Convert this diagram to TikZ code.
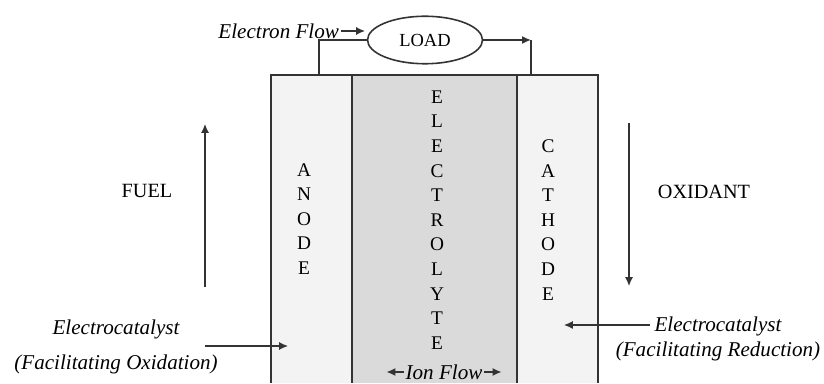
\documentclass[tikz,border=0pt]{standalone}
\usepackage{fontspec}
\setmainfont{Liberation Serif}
\usepackage{tikz}
\usetikzlibrary{calc, shapes.geometric, positioning, arrows.meta}

\definecolor{cellline}{HTML}{333333}
\definecolor{electfill}{HTML}{DADADA}
\definecolor{electrodefill}{HTML}{F3F3F3}

\begin{document}
\begin{tikzpicture}[>={Latex[length=5pt, width=4.5pt]}, x=0.02cm, y=-0.02cm,
    cellwall/.style={draw=cellline, line width=0.9pt},
    flowarrow/.style={->, draw=cellline, line width=0.7pt},
    vword/.style={font=\fontsize{11}{14}\selectfont, align=center, inner sep=0pt},
    itlabel/.style={font=\fontsize{12}{14}\selectfont\itshape, inner sep=1pt},
    uplabel/.style={font=\fontsize{11.5}{13}\selectfont, inner sep=1pt}]
    \useasboundingbox (0,0) rectangle (824,384);
    % =================================================================
    % 1. PIN: ANODE - ELECTROLYTE - CATHODE
    % =================================================================
    \fill[electrodefill] (271,75) rectangle (352,383);
    \fill[electfill] (352,75) rectangle (517,383);
    \fill[electrodefill] (517,75) rectangle (598,383);
    \draw[cellwall] (271,383) -- (271,75) -- (598,75) -- (598,383);
    \draw[cellwall] (352,75) -- (352,383);
    \draw[cellwall] (517,75) -- (517,383);
    % Chữ dọc
    \node[vword] (anodetxt) at (304,219) {A\\N\\O\\D\\E};
    \node[vword] (electtxt) at (437,220) {E\\L\\E\\C\\T\\R\\O\\L\\Y\\T\\E};
    \node[vword] (cathodetxt) at (548,220) {C\\A\\T\\H\\O\\D\\E};
    % Dòng ion
    \node[itlabel] (ion) at (444,372) {Ion Flow};
    \draw[flowarrow] (ion.west) -- ++(-17,0);
    \draw[flowarrow] (ion.east) -- ++(17,0);

    % =================================================================
    % 2. MẠCH NGOÀI (LOAD)
    % =================================================================
    \node[ellipse, draw=cellline, line width=0.9pt, minimum width=2.3cm,
          minimum height=0.95cm, font=\fontsize{10.5}{12}\selectfont] (load) at (425,40) {LOAD};
    \coordinate (wleft) at (319,75);
    \coordinate (wright) at (531,75);
    \draw[cellwall] (wleft) |- (load.west);
    \draw[flowarrow, line width=0.9pt] (load.east) -- (load.east -| wright);
    \draw[cellwall] (load.east -| wright) -- (wright);
    \node[itlabel, anchor=east] (eflow) at (341,31) {Electron Flow};
    \draw[flowarrow] (eflow.east) -- ++(24,0);

    % =================================================================
    % 3. NHIÊN LIỆU VÀ CHẤT OXI HOÁ
    % =================================================================
    \node[uplabel] (fuel) at (147,191) {FUEL};
    \coordinate (fuelbot) at (205,287);
    \coordinate (fueltop) at (205,124);
    \draw[flowarrow] (fuelbot) -- (fueltop);
    \node[uplabel] (oxid) at (704,192) {OXIDANT};
    \coordinate (oxtop) at (629,123);
    \coordinate (oxbot) at (629,286);
    \draw[flowarrow] (oxtop) -- (oxbot);

    % Chất xúc tác
    \node[itlabel, align=center, font=\fontsize{12}{20}\selectfont\itshape] (catleft) at (116,347)
        {Electrocatalyst\\(Facilitating Oxidation)};
    \coordinate (catla) at (205,346);
    \coordinate (catlb) at (288,346);
    \draw[flowarrow] (catla) -- (catlb);
    \node[itlabel, align=center, font=\fontsize{12}{14.5}\selectfont\itshape] (catright) at (718,339)
        {Electrocatalyst\\(Facilitating Reduction)};
    \coordinate (catra) at (650,325);
    \coordinate (catrb) at (564,325);
    \draw[flowarrow] (catra) -- (catrb);
\end{tikzpicture}
\end{document}
